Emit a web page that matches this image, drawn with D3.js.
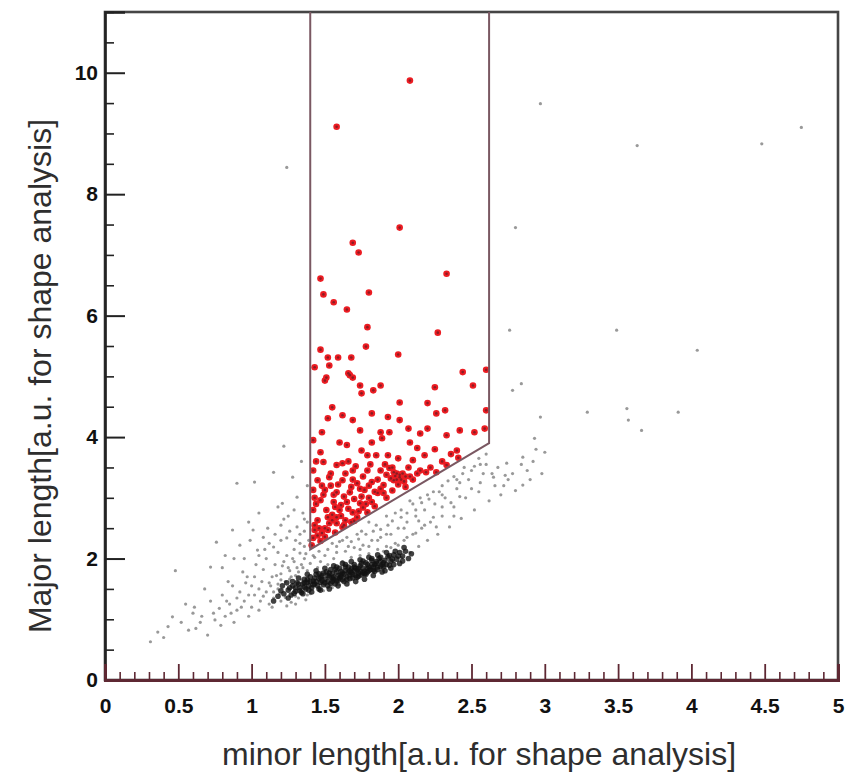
<!DOCTYPE html>
<html>
<head>
<meta charset="utf-8">
<script src="https://cdn.jsdelivr.net/npm/d3@7/dist/d3.min.js"></script>
<style>
  html, body { margin: 0; padding: 0; background: #fff; }
  svg { display: block; }
</style>
</head>
<body>
<svg id="chart" width="849" height="781"></svg>
<script>
// ---------------- data ----------------
const xTickValues = [0, 0.5, 1, 1.5, 2, 2.5, 3, 3.5, 4, 4.5, 5];
const xTickLabels = ["0", "0.5", "1", "1.5", "2", "2.5", "3", "3.5", "4", "4.5", "5"];
const yTickValues = [0, 2, 4, 6, 8, 10];
const yTickLabels = ["0", "2", "4", "6", "8", "10"];
const xTitle = "minor length[a.u. for shape analysis]";
const yTitle = "Major length[a.u. for shape analysis]";

// gate polygon vertices (minor, major)
const gateVertices = [[1.4, 11], [1.4, 2.15], [2.62, 3.9], [2.62, 11]];

// events inside the gate (red)
const gatedEvents = [
  [2.08,9.87],[1.58,9.11],[2.01,7.45],[1.69,7.20],[1.73,7.04],[2.33,6.69],[1.47,6.61],[1.49,6.35],
  [1.80,6.38],[1.56,6.22],[1.65,6.10],[1.79,5.81],[2.27,5.72],[1.78,5.49],[2.00,5.36],[1.47,5.44],
  [1.52,5.31],[1.59,5.31],[1.68,5.31],[1.43,5.15],[1.53,5.18],[2.44,5.07],[2.60,5.11],[1.51,4.98],
  [1.66,5.05],[1.69,4.98],[1.50,4.93],[1.67,5.02],[1.74,4.85],[1.75,4.72],[1.83,4.77],[1.88,4.85],
  [2.25,4.82],[2.51,4.85],[2.01,4.57],[2.20,4.56],[1.55,4.49],[1.52,4.31],[1.62,4.36],[1.69,4.28],
  [1.82,4.39],[1.93,4.33],[2.01,4.28],[2.26,4.39],[2.32,4.44],[2.60,4.44],[1.74,4.11],[1.88,4.08],
  [1.94,4.08],[2.07,4.14],[2.15,4.06],[2.20,4.14],[2.33,4.03],[2.42,4.11],[2.52,4.08],[2.59,4.14],
  [1.48,4.08],[1.42,3.95],[1.60,3.91],[1.65,3.87],[1.82,3.91],[1.89,3.98],[2.08,3.91],[2.13,3.82],
  [2.40,3.78],[1.75,3.78],[1.79,3.70],[1.85,3.70],[1.93,3.70],[2.00,3.65],[1.47,3.75],[1.49,3.59],
  [1.58,3.54],[1.62,3.57],[1.69,3.45],[1.79,3.45],[1.88,3.45],[1.94,3.49],[1.99,3.40],[1.97,3.29],
  [2.01,3.34],[2.13,3.40],[2.19,3.42],[2.26,3.42],[2.33,3.54],[2.41,3.66],[1.42,3.45],[1.45,3.29],
  [1.53,3.34],[1.62,3.29],[1.72,3.24],[1.82,3.26],[1.90,3.21],[1.42,3.13],[1.50,3.13],[1.58,3.09],
  [1.67,3.09],[1.77,3.13],[1.86,3.08],[1.47,2.96],[1.56,2.93],[1.65,2.93],[1.74,2.91],[1.82,2.93],
  [1.42,2.80],[1.51,2.80],[1.60,2.80],[1.69,2.76],[1.79,2.76],[1.45,2.63],[1.55,2.63],[1.64,2.63],
  [1.72,2.68],[1.43,2.47],[1.52,2.47],[1.62,2.52],[1.42,2.34],[1.50,2.36],[1.57,2.43],[1.41,2.22],
  [1.47,2.29],[2.02,3.30],[1.98,3.36],[2.05,3.35],[1.95,3.32],[2.04,3.27],[1.92,3.38],[1.56,3.05],
  [1.70,2.98],[1.44,3.60],[1.54,3.20],[1.61,2.70],[1.68,3.18],[1.75,3.02],[1.46,2.50],[1.58,2.58],
  [1.43,2.55],[1.48,2.42],[1.53,2.58],[1.58,2.68],[1.63,2.55],[1.66,2.82],[1.70,2.62],[1.76,2.84],
  [1.80,3.00],[1.84,2.86],[1.88,3.15],[1.92,3.00],[1.96,3.12],[2.05,3.18],[2.10,3.30],[2.15,3.45],
  [2.22,3.50],[2.30,3.60],[2.36,3.72],[1.44,2.90],[1.49,3.05],[1.54,3.40],[1.59,3.22],[1.64,3.40],
  [1.66,3.60],[1.71,3.52],[1.76,3.35],[1.81,3.55],[1.86,3.30],[1.91,3.55],[1.96,3.50],[2.07,3.50],
  [2.10,3.62],[2.18,3.70],[2.25,3.80],[1.45,2.38],[1.50,2.50],[1.55,2.72],[1.61,2.88],[1.68,2.60],
  [1.73,2.78],[1.78,2.90],[1.43,3.00],[1.48,3.20],[1.52,2.68],[1.57,2.85],[1.63,3.02],[1.69,3.30],
  [1.74,3.15],[1.80,3.20],[1.84,3.10],[1.90,3.08],[2.00,3.22],[2.03,3.40],[2.08,3.35],[1.99,3.30],
  [2.01,3.38],[1.97,3.42]
];

// dense core of events (black)
const coreEvents = [
  [1.22,1.42],[1.25,1.48],[1.27,1.40],[1.28,1.55],[1.30,1.46],[1.31,1.60],[1.33,1.52],[1.34,1.44],
  [1.35,1.58],[1.36,1.66],[1.37,1.50],[1.38,1.61],[1.39,1.55],[1.40,1.70],[1.41,1.52],[1.42,1.63],
  [1.43,1.58],[1.44,1.74],[1.45,1.55],[1.46,1.67],[1.47,1.61],[1.48,1.72],[1.49,1.57],[1.50,1.66],
  [1.51,1.78],[1.52,1.62],[1.53,1.70],[1.54,1.59],[1.55,1.75],[1.56,1.66],[1.57,1.82],[1.58,1.63],
  [1.59,1.72],[1.60,1.68],[1.61,1.79],[1.62,1.65],[1.63,1.74],[1.64,1.86],[1.65,1.70],[1.66,1.78],
  [1.67,1.67],[1.68,1.83],[1.69,1.74],[1.70,1.90],[1.71,1.72],[1.72,1.81],[1.73,1.76],[1.74,1.88],
  [1.75,1.73],[1.76,1.84],[1.77,1.79],[1.78,1.93],[1.79,1.78],[1.80,1.86],[1.81,1.82],[1.82,1.97],
  [1.83,1.81],[1.84,1.90],[1.86,1.86],[1.87,2.00],[1.88,1.87],[1.90,1.93],[1.92,1.90],[1.93,2.03],
  [1.95,1.96],[1.97,2.06],[1.99,1.99],[2.01,2.10],[2.03,2.04],[2.05,2.12],
  [1.44,1.62],[1.47,1.69],[1.50,1.60],[1.53,1.76],[1.56,1.70],[1.59,1.64],[1.62,1.76],[1.65,1.66],
  [1.68,1.77],[1.71,1.84],[1.74,1.79],[1.77,1.75],[1.80,1.80],[1.83,1.86],[1.86,1.82],[1.89,1.90],
  [1.58,1.78],[1.61,1.70],[1.64,1.80],[1.67,1.73],[1.70,1.80],[1.73,1.71],[1.76,1.77],[1.79,1.84],
  [1.82,1.90],[1.85,1.95],[1.52,1.55],[1.55,1.62],[1.48,1.64],[1.42,1.57],[1.39,1.48],[1.36,1.53],
  [1.33,1.47],[1.46,1.50],[1.57,1.58],[1.63,1.62],[1.69,1.68],[1.72,1.69],[1.78,1.74],[1.84,1.79],
  [1.90,1.86],[1.94,1.89],[1.96,1.99],[1.91,1.97],[1.88,1.95],[1.75,1.92],[1.66,1.86],[1.60,1.84],
  [1.54,1.82],[1.49,1.76],[1.43,1.68],[1.38,1.65],[1.32,1.58],[1.26,1.52],[1.20,1.47],[1.29,1.43],
  [1.25,1.35],[1.28,1.62],[1.32,1.68],[1.35,1.42],[1.38,1.74],[1.41,1.45],[1.44,1.80],[1.47,1.48],
  [1.50,1.84],[1.53,1.50],[1.56,1.88],[1.59,1.55],[1.62,1.92],[1.65,1.58],[1.68,1.95],[1.71,1.62],
  [1.74,1.98],[1.77,1.66],[1.80,2.02],[1.83,1.72],[1.86,2.06],[1.89,1.78],[1.92,2.10],[1.95,1.84],
  [1.98,2.12],[2.01,1.92],[2.04,2.18],[2.07,2.00],[1.18,1.38],[1.15,1.30],[1.21,1.55],[1.24,1.60],
  [1.46,1.75],[1.52,1.72],[1.58,1.86],[1.64,1.90],[1.70,1.86],[1.76,1.96],[1.82,2.00],[1.88,2.02],
  [1.94,2.05],[2.00,2.04],[1.40,1.62],[1.36,1.60],[1.30,1.52],[1.55,1.68],[1.61,1.73],[1.67,1.80],
  [1.73,1.84],[1.79,1.90],[1.85,1.92],[1.91,1.80],[1.97,1.90],[2.03,1.96],[2.09,2.08]
];

// sparse events outside the gate (grey)
const otherEvents = [
  [0.31,0.63],[0.36,0.79],[0.40,0.70],[0.43,0.88],[0.46,1.04],[0.48,1.80],[0.52,0.95],[0.55,1.25],
  [0.57,0.82],[0.60,1.10],[0.61,1.20],[0.65,0.95],[0.68,1.50],[0.70,0.74],[0.72,1.86],[0.72,1.30],
  [0.75,0.99],[0.78,1.18],[0.80,1.40],[0.82,1.05],[0.84,1.62],[0.85,1.25],[0.87,1.55],[0.88,0.95],
  [0.90,1.15],[0.92,1.45],[0.94,1.78],[0.95,1.30],[0.97,1.70],[0.98,1.05],[1.00,1.20],[1.00,1.55],
  [1.02,1.40],[1.03,1.90],[1.05,1.15],[1.06,1.30],[1.07,1.62],[1.08,1.82],[1.10,1.45],[1.10,2.00],
  [1.12,1.25],[1.13,1.55],[1.14,1.70],[1.15,1.35],[1.16,1.90],[1.18,1.50],[1.18,2.10],[1.20,1.30],
  [1.20,1.65],[1.21,1.88],[1.23,1.36],[1.24,2.05],[1.26,1.80],[1.27,1.28],[1.29,2.15],[1.30,1.72],
  [1.32,1.35],[1.33,2.25],[1.35,1.85],[1.37,2.08],[1.38,1.40],
  [0.76,2.27],[0.82,2.05],[0.87,2.47],[0.90,3.24],[0.92,2.22],[0.95,2.00],[0.98,2.60],[1.01,2.47],
  [1.02,3.26],[1.04,2.14],[1.05,2.75],[1.08,2.35],[1.11,2.50],[1.15,2.19],[1.15,3.42],[1.18,2.85],
  [1.20,2.55],[1.21,2.91],[1.22,3.85],[1.24,2.34],[1.25,2.70],[1.28,3.34],[1.30,2.30],[1.31,3.01],
  [1.31,2.52],[1.33,2.09],[1.34,3.60],[1.35,2.75],[1.36,2.45],[1.38,3.20],[1.38,2.60],[1.24,8.44],
  [1.15,1.45],[1.18,1.58],[1.20,1.75],[1.23,1.62],[1.25,1.85],[1.27,1.70],[1.29,1.95],[1.30,1.38],
  [1.32,1.78],[1.34,1.90],[1.36,2.00],[1.38,1.80],[1.40,1.92],[1.40,1.42],[1.43,2.02],[1.45,1.85],
  [1.47,1.95],[1.49,1.47],[1.50,2.05],[1.52,1.90],[1.55,1.52],[1.56,2.00],[1.58,2.10],[1.60,1.57],
  [1.62,1.95],[1.64,2.12],[1.66,1.62],[1.68,2.02],[1.70,2.18],[1.72,1.68],[1.74,2.05],[1.76,2.22],
  [1.78,1.74],[1.80,2.08],[1.82,2.30],[1.84,1.80],[1.86,2.15],[1.88,2.35],[1.90,1.86],[1.92,2.20],
  [1.95,2.40],[1.97,1.95],[1.98,2.25],[2.00,2.50],[2.02,2.02],[2.04,2.30],[2.06,2.60],[2.08,2.10],
  [2.10,2.40],[2.12,2.70],[2.14,2.20],[2.16,2.50],[2.18,2.80],[2.20,2.30],[2.22,2.60],[2.25,2.90],
  [2.27,2.40],[2.30,2.70],[2.32,3.00],[2.35,2.52],[2.38,2.85],[2.40,3.15],[2.43,2.66],[2.46,3.00],
  [2.48,3.30],[2.52,2.80],[2.55,3.10],[2.58,3.40],[2.62,2.95],[2.66,3.20],[2.70,3.05],[2.75,3.30],
  [2.80,3.12],[2.88,3.45],[2.92,3.60],[3.00,3.75],[2.60,3.55],
  [1.55,2.25],[1.65,2.35],[1.75,2.45],[1.85,2.55],[1.92,2.70],[2.02,2.80],[2.10,2.90],[2.20,3.05],
  [2.30,3.20],[2.38,3.35],[2.45,3.50],[2.55,3.65],[1.60,2.28],[1.72,2.40],[1.80,2.60],[1.98,2.75],
  [2.08,2.95],[2.15,3.00],[2.28,3.10],[2.42,3.25],[2.50,3.45],
  [1.05,1.50],[1.08,1.38],[1.12,1.60],[1.14,1.20],[1.17,1.72],[1.19,1.42],[1.22,1.95],[1.24,1.22],
  [1.26,1.66],[1.28,2.00],[1.30,1.25],[1.31,1.85],[1.34,1.65],[1.36,2.20],[1.37,1.32],[1.39,2.30],
  [0.98,1.40],[0.96,1.60],[0.93,1.20],[0.90,1.35],[0.86,1.10],[0.83,1.30],[0.79,0.90],[0.74,1.10],
  [0.66,1.05],[0.62,0.85],[1.02,1.70],[1.05,2.05],[1.12,2.25],[1.20,2.30],[1.26,2.45],[1.33,2.40],
  [1.36,2.65],[1.29,2.80],[1.22,2.65],[1.16,2.40],[1.09,2.15],[0.99,2.30],[0.88,2.00],[0.80,1.85],
  [1.42,2.05],[1.46,2.12],[1.52,2.15],[1.58,2.20],[1.62,2.30],[1.68,2.28],[1.73,2.32],[1.78,2.40],
  [1.83,2.45],[1.88,2.48],[1.93,2.55],[1.96,2.62],[2.02,2.68],[2.06,2.75],[2.12,2.80],[2.16,2.92],
  [2.21,2.98],[2.24,3.10],[2.30,3.05],[2.34,3.28],[2.40,3.30],[2.44,3.40],[2.52,3.52],[2.56,3.55],
  [2.60,3.72],[1.90,2.12],[1.95,2.18],[2.00,2.22],[2.06,2.35],[2.12,2.42],[2.18,2.55],[2.24,2.68],
  [2.30,2.85],[2.36,2.92],[2.42,3.02],[2.50,3.15],[2.56,3.25],[2.64,3.40],[2.68,3.50],[2.72,3.20],
  [2.78,3.40],[2.84,3.55],[2.90,3.30],[2.94,3.80],[1.86,2.30],[1.80,2.20],[1.74,2.15],[1.66,2.20],
  [1.92,2.40],[2.04,2.50],[2.14,2.62],[2.26,2.52],[2.38,2.70],
  [2.97,9.49],[3.63,8.80],[4.48,8.83],[4.75,9.10],[2.80,7.45],[2.76,5.76],[3.49,5.76],[4.04,5.43],
  [2.84,4.88],[2.97,4.33],[2.93,3.98],[2.85,3.67],[2.98,3.40],[2.74,3.57],[2.65,3.34],[2.73,3.37],
  [3.29,4.41],[3.56,4.47],[3.57,4.28],[3.66,4.11],[3.91,4.41],[2.85,3.21],[2.78,4.77]
];

// ---------------- drawing ----------------
const svg = d3.select("#chart");
const x = d3.scaleLinear().domain([0, 5]).range([105, 838]);
const y = d3.scaleLinear().domain([0, 11]).range([680, 12]);
const font = "'Liberation Sans', Arial, sans-serif";
const axisRed = "#5e2833";

// frame
svg.append("rect")
  .attr("x", x(0)).attr("y", y(11))
  .attr("width", x(5) - x(0)).attr("height", y(0) - y(11))
  .attr("fill", "#fff").attr("stroke", "#454545").attr("stroke-width", 2.6);

// events
svg.append("g").selectAll("circle").data(otherEvents).join("circle")
  .attr("cx", d => x(d[0])).attr("cy", d => y(d[1])).attr("r", 1.6)
  .attr("fill", "#555").attr("opacity", 0.6);
svg.append("g").selectAll("circle").data(coreEvents).join("circle")
  .attr("cx", d => x(d[0])).attr("cy", d => y(d[1])).attr("r", 2.8)
  .attr("fill", "#111").attr("opacity", 0.8);
const gRed = svg.append("g");
gRed.selectAll("circle.o").data(gatedEvents).join("circle").attr("class", "o")
  .attr("cx", d => x(d[0])).attr("cy", d => y(d[1])).attr("r", 3.3)
  .attr("fill", "#ec1c22");
gRed.selectAll("circle.i").data(gatedEvents).join("circle").attr("class", "i")
  .attr("cx", d => x(d[0])).attr("cy", d => y(d[1])).attr("r", 1.3)
  .attr("fill", "#6b1c24").attr("opacity", 0.75);

// gate
svg.append("path")
  .datum(gateVertices)
  .attr("d", d3.line().x(d => x(d[0])).y(d => y(d[1])))
  .attr("fill", "none").attr("stroke", "#7a5862").attr("stroke-width", 2);

// y axis
const yMinor = d3.range(0, 11.01, 0.5).filter(v => v % 2 !== 0);
svg.append("g").attr("transform", `translate(${x(0)},0)`)
  .call(d3.axisRight(y).tickValues(yMinor).tickSize(9).tickFormat(""))
  .call(g => g.select(".domain").remove())
  .selectAll("line").attr("stroke", "#222").attr("stroke-width", 1.6);
const yAx = svg.append("g").attr("transform", `translate(${x(0)},0)`)
  .call(d3.axisLeft(y).tickValues(yTickValues).tickSize(-20).tickPadding(7)
    .tickFormat((d, i) => yTickLabels[i]));
yAx.select(".domain").attr("stroke", "#222").attr("stroke-width", 2.6);
yAx.selectAll("line").attr("stroke", "#222").attr("stroke-width", 2);
yAx.selectAll("text").attr("font-family", font).attr("font-size", 21)
  .attr("font-weight", "bold").attr("fill", "#111");

// x axis
const xMinor = d3.range(0, 5.001, 0.1).filter(v => Math.abs(v * 2 - Math.round(v * 2)) > 1e-6);
svg.append("g").attr("transform", `translate(0,${y(0)})`)
  .call(d3.axisBottom(x).tickValues(xMinor).tickSize(-8).tickFormat(""))
  .call(g => g.select(".domain").remove())
  .selectAll("line").attr("stroke", axisRed).attr("stroke-width", 1.6);
const xAx = svg.append("g").attr("transform", `translate(0,${y(0)})`)
  .call(d3.axisBottom(x).tickValues(xTickValues).tickSize(-16).tickPadding(18)
    .tickFormat((d, i) => xTickLabels[i]));
xAx.select(".domain").attr("stroke", axisRed).attr("stroke-width", 3);
xAx.selectAll("line").attr("stroke", axisRed).attr("stroke-width", 1.8);
xAx.selectAll("text").attr("font-family", font).attr("font-size", 21)
  .attr("font-weight", "bold").attr("fill", "#111");

// titles
svg.append("text")
  .attr("x", 479).attr("y", 765).attr("text-anchor", "middle")
  .attr("font-family", font).attr("font-size", 32).attr("fill", "#2e2e2e")
  .text(xTitle);
svg.append("text")
  .attr("transform", "translate(51,376) rotate(-90)").attr("text-anchor", "middle")
  .attr("font-family", font).attr("font-size", 32).attr("fill", "#2e2e2e")
  .text(yTitle);
</script>
</body>
</html>
